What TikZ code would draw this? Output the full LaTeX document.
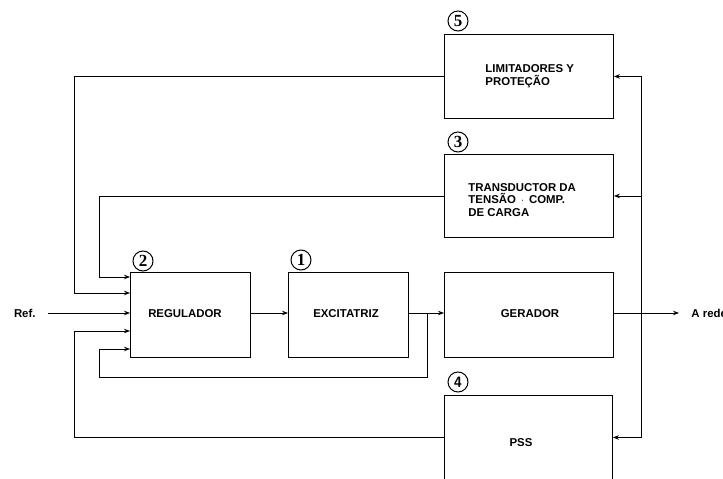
\documentclass[tikz,border=0pt]{standalone}
\usepackage{fontspec}
\setmainfont{Liberation Sans}
\newfontfamily\numfont{Liberation Serif}
\usetikzlibrary{arrows.meta}
\begin{document}
\begin{tikzpicture}[x=1pt,y=-1pt,line width=0.9pt,
  blk/.style={draw,rectangle,inner sep=0pt,anchor=north west,minimum height=85pt},
  lbl/.style={font=\bfseries\fontsize{11.4}{12.8}\selectfont,inner sep=0pt,align=left},
  circ/.style={draw,circle,minimum size=20pt,inner sep=0pt,line width=1pt,font=\numfont\bfseries\fontsize{17}{17}\selectfont},
  arr/.style={-{Stealth[length=6pt,width=4.5pt]}}]
\clip (0,0) rectangle (723,479);
% blocks
\node[blk,minimum width=120pt] (reg) at (130,272) {};
\node[blk,minimum width=120pt] (exc) at (288,272) {};
\node[blk,minimum width=169pt] (gen) at (444,272) {};
\node[blk,minimum width=169pt,minimum height=84pt] (lim) at (444,34) {};
\node[blk,minimum width=169pt,minimum height=83pt] (tra) at (444,154) {};
\node[blk,minimum width=168pt,minimum height=84pt] (pss) at (444,395) {};
% labels
\node[lbl] (tReg) at (185,314) {REGULADOR};
\node[lbl] (tExc) at (346,314) {EXCITATRIZ};
\node[lbl] (tGen) at (530,314) {GERADOR};
\node[lbl] (tPss) at (521,443) {PSS};
\node[lbl,anchor=west] (tLim) at (485,76) {LIMITADORES Y\\PROTEÇÃO};
\node[lbl,anchor=west] (tTra) at (468,200) {TRANSDUCTOR DA\\TENSÃO \,$\cdot$\, COMP.\\DE CARGA};
\node[lbl,anchor=east] (tRef) at (36,313) {Ref.};
\node[lbl,anchor=west] (tRede) at (691,313) {A rede};
% circled numbers
\node[circ] (c1) at (301,260) {1};
\node[circ] (c2) at (143,261) {2};
\node[circ] (c3) at (458,142) {3};
\node[circ,font=\sffamily\bfseries\fontsize{15}{15}\selectfont] (c4) at (458,382) {4};
\node[circ] (c5) at (458,21) {5};
% coordinates
\coordinate (r1) at (130,277);
\coordinate (r2) at (130,293);
\coordinate (r3) at (130,313);
\coordinate (r4) at (130,331);
\coordinate (r5) at (130,349);
\coordinate (refs) at (48,313);
\coordinate (jn) at (427,313);
\coordinate (bus) at (641,313);
\coordinate (out) at (679,313);
% connectors
\draw[arr] (refs) -- (r3);
\draw[arr] (reg.east |- r3) -- (exc.west |- r3);
\draw[arr] (exc.east |- r3) -- (gen.west |- r3);
\draw[arr] (gen.east |- r3) -- (out);
\draw[arr] (lim.west) -| (74,293) -- (r2);
\draw[arr] (tra.west) -| (99,277) -- (r1);
\draw[arr] (pss.west) -| (74,331) -- (r4);
\draw[arr] (jn) -- (427,377) -- (99,377) -- (99,349) -- (r5);
\draw[arr] (bus) |- (lim.east);
\draw[arr] (bus) |- (tra.east);
\draw[arr] (bus) |- (pss.east);
\end{tikzpicture}
\end{document}
